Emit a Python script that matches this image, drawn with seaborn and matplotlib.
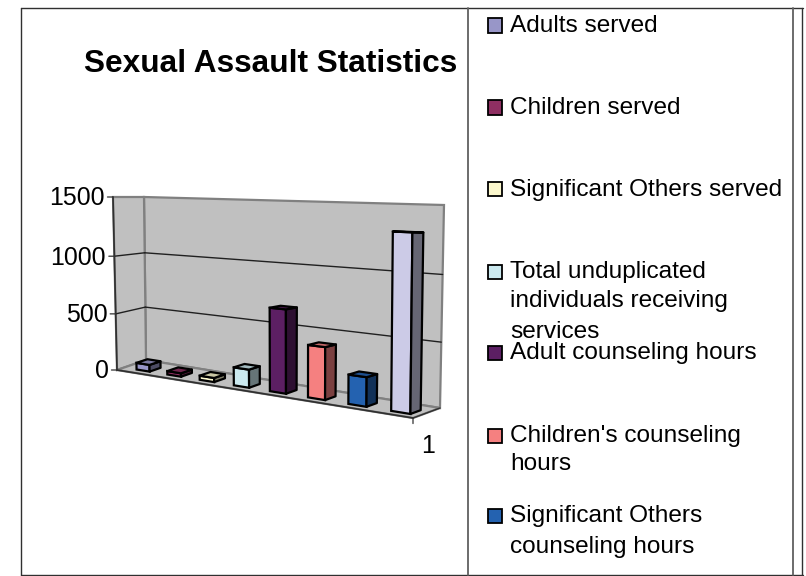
import numpy as np
import seaborn as sns
import matplotlib.pyplot as plt
from matplotlib.patches import Polygon, Rectangle
from matplotlib.transforms import Transform

categories = [
    "Adults served",
    "Children served",
    "Significant Others served",
    "Total unduplicated individuals receiving services",
    "Adult counseling hours",
    "Children's counseling hours",
    "Significant Others counseling hours",
    "Total counseling hours",
]
values = [60, 30, 35, 150, 670, 412, 225, 1300]
colors = ["#9896C8", "#8F2F62", "#FBF7CC", "#CBE9EF", "#5C1F63", "#F58080", "#2462B0", "#CCCBE7"]
y_ticks = [0, 500, 1000, 1500]
x_tick_label = "1"
title = "Sexual Assault Statistics"
legend_labels = [
    "Adults served",
    "Children served",
    "Significant Others served",
    "Total unduplicated\nindividuals receiving\nservices",
    "Adult counseling hours",
    "Children's counseling\nhours",
    "Significant Others\ncounseling hours",
]

W, H = 806, 576
XMIN, XMAX = -0.63, 7.42
YMAX = 1500
D_FRONT, D_BACK = 0.25, 0.63

# pixel corners of the fake 3d box: [depth][left/right][bottom/top]
CORNERS = np.array([
    [[(117, 370), (113, 197)], [(413, 418), (415, 203)]],
    [[(146, 360), (144, 197)], [(440, 408), (444, 205)]],
], dtype=float)


def project(x, y, d):
    u = (np.asarray(x, float) - XMIN) / (XMAX - XMIN)
    u = 0.8 * u / (1 - 0.2 * u)  # perspective squeeze on the left
    v = np.asarray(y, float) / YMAX
    v = 0.96 * v + 0.04 * v ** 2
    d = np.asarray(d, float)
    px = 0
    for i, wd in enumerate([1 - d, d]):
        for j, wu in enumerate([1 - u, u]):
            for k, wv in enumerate([1 - v, v]):
                px = px + (wd * wu * wv)[..., None] * CORNERS[i, j, k]
    return np.column_stack([px[..., 0], H - px[..., 1]])


class BoxPlane(Transform):
    """data -> display on one plane of the box, mode says which axis is fixed"""
    input_dims = 2
    output_dims = 2
    is_separable = False
    has_inverse = False

    def __init__(self, mode, fixed):
        super().__init__()
        self.mode = mode
        self.fixed = fixed

    def transform_non_affine(self, values):
        a, b = values[:, 0], values[:, 1]
        c = np.full_like(a, self.fixed, dtype=float)
        if self.mode == "xy":
            return project(a, b, c)
        if self.mode == "dy":
            return project(c, b, a)
        return project(a, c, b)


sns.set_theme(style="white")
plt.rcParams["font.family"] = ["Liberation Sans", "DejaVu Sans"]

fig = plt.figure(figsize=(W / 100, H / 100), dpi=100)
ax = fig.add_axes([0, 0, 1, 1])
sns.barplot(
    x=categories, y=values, hue=categories, palette=colors, width=0.43, saturation=1,
    edgecolor="black", linewidth=1.6, legend=False, ax=ax,
)
ax.axis("off")

# walls and floor
back = BoxPlane("xy", 1)
left = BoxPlane("dy", XMIN)
floor = BoxPlane("xd", 0)
wall_gray = "#C0C0C0"
edge_gray = "#808080"
ax.add_patch(Polygon([(XMIN, 0), (XMAX, 0), (XMAX, YMAX), (XMIN, YMAX)], transform=back,
                     fc=wall_gray, ec=edge_gray, lw=1.6, zorder=1, clip_on=False))
ax.add_patch(Polygon([(0, 0), (1, 0), (1, YMAX), (0, YMAX)], transform=left,
                     fc=wall_gray, ec=edge_gray, lw=1.6, zorder=1, clip_on=False))
ax.add_patch(Polygon([(XMIN, 0), (XMAX, 0), (XMAX, 1), (XMIN, 1)], transform=floor,
                     fc=wall_gray, ec=edge_gray, lw=1.6, zorder=1, clip_on=False))

for t in y_ticks[1:-1]:
    ax.plot([XMIN, XMAX], [t, t], transform=back, color="#202020", lw=1.0, zorder=1.5,
            scalex=False, scaley=False, clip_on=False)
    ax.plot([0, 1], [t, t], transform=left, color="#202020", lw=1.0, zorder=1.5,
            scalex=False, scaley=False, clip_on=False)

# axis lines, ticks
front = BoxPlane("xy", 0)
ax.plot([XMIN, XMIN], [0, YMAX], transform=front, color="#303030", lw=1.2, zorder=2,
        scalex=False, scaley=False, clip_on=False)
ax.plot([XMIN, XMAX], [0, 0], transform=front, color="#303030", lw=1.2, zorder=2,
        scalex=False, scaley=False, clip_on=False)
ax.plot([0, 1], [0, 0], transform=BoxPlane("dy", XMAX), color="#303030", lw=1.0, zorder=2,
        scalex=False, scaley=False, clip_on=False)
for t in y_ticks:
    ax.annotate("", xy=(XMIN, t), xycoords=front, xytext=(-4, 0), textcoords="offset points",
                arrowprops=dict(arrowstyle="-", color="#303030", lw=0.9, shrinkA=0, shrinkB=0),
                annotation_clip=False)
    ax.annotate(str(t), xy=(XMIN, t), xycoords=front, xytext=(-6, -1), textcoords="offset points",
                ha="right", va="center", fontsize=17.9, color="black", annotation_clip=False)
ax.annotate("", xy=(XMAX, 0), xycoords=front, xytext=(0, -4), textcoords="offset points",
            arrowprops=dict(arrowstyle="-", color="#303030", lw=0.9, shrinkA=0, shrinkB=0),
            annotation_clip=False)
ax.annotate(x_tick_label, xy=(XMAX, 0), xycoords=front, xytext=(11, -20.5), textcoords="offset points",
            ha="center", va="center", fontsize=17.9, color="black", annotation_clip=False)


def darker(color, f):
    rgb = np.array(plt.matplotlib.colors.to_rgb(color))
    return tuple(rgb * f)


# push every seaborn bar onto its plane and give it a side and a top
front_face = BoxPlane("xy", D_FRONT)
bars = [p for p in ax.patches if isinstance(p, Rectangle)]
bars = sorted(bars, key=lambda p: p.get_x())
for bar, color in zip(bars, colors):
    x0, w, h = bar.get_x(), bar.get_width(), bar.get_height()
    bar.set_transform(front_face)
    bar.set_zorder(3)
    bar.set_clip_on(False)
    ax.add_patch(Polygon([(D_FRONT, 0), (D_BACK, 0), (D_BACK, h), (D_FRONT, h)],
                         transform=BoxPlane("dy", x0 + w), fc=darker(color, 0.5), ec="black",
                         lw=1.6, zorder=3, clip_on=False, joinstyle="round"))
    ax.add_patch(Polygon([(x0, D_FRONT), (x0 + w, D_FRONT), (x0 + w, D_BACK), (x0, D_BACK)],
                         transform=BoxPlane("xd", h), fc=darker(color, 0.8), ec="black",
                         lw=1.6, zorder=3, clip_on=False, joinstyle="round"))

# title + page frame
fig.text(84 / W, 1 - 72 / H, title, fontsize=22.75, fontweight="bold", color="black", va="baseline")


def page_line(x0, y0, x1, y1, color="#303030", lw=1.0):
    fig.add_artist(plt.Line2D([x0 / W, x1 / W], [1 - y0 / H, 1 - y1 / H], color=color, lw=lw))


page_line(21, 8, 803, 8)
page_line(21, 8, 21, 575)
page_line(21, 575, 803, 575)
page_line(468, 8, 468, 575, color="#606060", lw=1.3)
page_line(793, 8, 793, 575, color="#606060", lw=1.3)
page_line(802, 8, 802, 575)

# legend laid out by hand, the original has uneven rows and gets cut off
legend_base = [32, 114, 196, 278, 359, 442, 522]
line_steps = [[0], [0], [0], [0, 29, 60], [0], [0, 28], [0, 31]]
for i, label in enumerate(legend_labels):
    base = legend_base[i]
    fig.add_artist(plt.Rectangle((487.5 / W, 1 - (base + 0.5) / H), 14 / W, 14 / H, fc=colors[i],
                                 ec="black", lw=1.3, transform=fig.transFigure))
    for line, step in zip(label.split("\n"), line_steps[i]):
        fig.text(510 / W, 1 - (base + step) / H, line, fontsize=17.6, color="black", va="baseline")

fig.savefig("out.png", dpi=100)
